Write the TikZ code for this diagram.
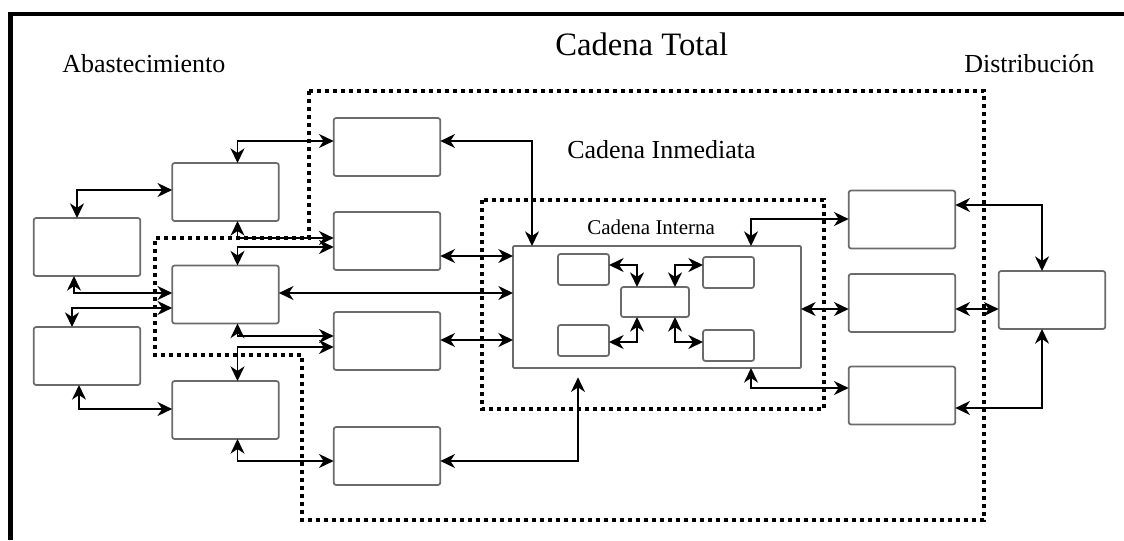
\documentclass[tikz,border=0pt]{standalone}
\usepackage{fontspec}
\setmainfont{Liberation Serif}
\usetikzlibrary{calc,arrows.meta}
\tikzset{
  box/.style={draw=black!58, line width=1.3pt, fill=white, rounded corners=1.8pt, inner sep=0pt, outer sep=0pt},
  stdbox/.style={box, minimum width=80pt, minimum height=43.5pt},
  smallbox/.style={box, minimum width=38.25pt, minimum height=23.25pt},
  tip/.style={Stealth[length=11pt,width=10.5pt,inset=3.5pt]},
  conn/.style={line width=1.45pt, {Stealth[length=11pt,width=10.5pt,inset=3.5pt]}-{Stealth[length=11pt,width=10.5pt,inset=3.5pt]}},
  dotframe/.style={line width=3.2pt, dash pattern=on 3.2pt off 2.8pt},
  frame/.style={line width=3.5pt},
  lbl/.style={anchor=base west, inner sep=0pt}
}
\begin{document}
\begin{tikzpicture}[x=0.75pt,y=-0.75pt]
\useasboundingbox (0,0) rectangle (1124,540);
% frame
\coordinate (fa) at (10.5,540);
\coordinate (fb) at (10.5,14);
\coordinate (fc) at (1124,14);
\draw[frame] (fa) -- (fb) -- (fc);
% labels
\node[lbl, font=\fontsize{19.5pt}{22pt}\selectfont] (tAb) at (62,72) {Abastecimiento};
\node[lbl, font=\fontsize{24.5pt}{28pt}\selectfont] (tCT) at (555,55) {Cadena Total};
\node[lbl, font=\fontsize{19.5pt}{22pt}\selectfont] (tDi) at (964,72) {Distribución};
\node[lbl, font=\fontsize{19.5pt}{22pt}\selectfont] (tCI) at (567,158) {Cadena Inmediata};
\node[lbl, font=\fontsize{15.75pt}{18pt}\selectfont] (tCN) at (587,234) {Cadena Interna};
% boxes
\node[stdbox] (L1) at (87,247) {};
\node[stdbox] (L2) at (87,356) {};
\node[stdbox] (M1) at (225.5,192) {};
\node[stdbox] (M2) at (225.5,294.5) {};
\node[stdbox] (M3) at (225.5,410) {};
\node[stdbox] (C1) at (387,147) {};
\node[stdbox] (C2) at (387,241) {};
\node[stdbox] (C3) at (387,341) {};
\node[stdbox] (C4) at (387,456) {};
\node[stdbox] (R1) at (902,219.5) {};
\node[stdbox] (R2) at (902,303) {};
\node[stdbox] (R3) at (902,395.5) {};
\node[stdbox] (D) at (1052,300) {};
\node[box, rounded corners=0.8pt, minimum width=216pt, minimum height=91.5pt] (IB) at (657,307) {};
\node[smallbox] (s1) at (583.5,269.5) {};
\node[box, minimum width=51pt, minimum height=22.5pt] (s2) at (655,302) {};
\node[smallbox] (s3) at (728.5,272.5) {};
\node[smallbox] (s4) at (583.5,340.5) {};
\node[smallbox] (s5) at (728.5,345.5) {};
% connectors
\draw[conn] ($(L1.north)+(-10,0)$) |- ($(M1.west)+(0,-2)$);
\draw[conn] ($(M1.north)+(12,0)$) |- ($(C1.west)+(0,-6)$);
\draw[conn] ($(C1.east)+(0,-6)$) -| ($(IB.north)+(-125,0)$);
\draw[conn] ($(M1.south)+(12,0)$) |- ($(C2.west)+(0,-3)$);
\draw[conn] ($(M2.north)+(12,0)$) |- ($(C2.west)+(0,6)$);
\draw[conn] ($(L1.south)+(-13,0)$) |- ($(M2.west)+(0,-1.5)$);
\draw[conn] ($(L2.north)+(-15,0)$) |- ($(M2.west)+(0,13.5)$);
\draw[conn] ($(M2.east)+(0,-1.5)$) -- ($(IB.west)+(0,-14)$);
\draw[conn] ($(C2.east)+(0,15)$) -- ($(IB.west)+(0,-51)$);
\draw[conn] ($(C3.east)+(0,-1)$) -- ($(IB.west)+(0,33)$);
\draw[conn] ($(M2.south)+(12,0)$) |- ($(C3.west)+(0,-5)$);
\draw[conn] ($(M3.north)+(12,0)$) |- ($(C3.west)+(0,6)$);
\draw[conn] ($(L2.south)+(-8,0)$) |- ($(M3.west)+(0,-1)$);
\draw[conn] ($(M3.south)+(12,0)$) |- ($(C4.west)+(0,5)$);
\draw[conn, shorten >=7pt] ($(C4.east)+(0,5)$) -| ($(IB.south)+(-79,0)$);
\draw[conn] ($(IB.north)+(94,0)$) |- ($(R1.west)+(0,-0.5)$);
\draw[conn] ($(IB.east)+(0,2)$) -- ($(R2.west)+(0,6)$);
\draw[conn] ($(IB.south)+(94,0)$) |- ($(R3.west)+(0,-7.5)$);
\draw[conn] ($(R1.east)+(0,-14.5)$) -| ($(D.north)+(-10,0)$);
\draw[conn] ($(R2.east)+(0,6)$) -- ($(D.west)+(0,9)$);
\draw[conn] ($(R3.east)+(0,12.5)$) -| ($(D.south)+(-10,0)$);
\draw[conn] ($(s1.east)+(0,-4.5)$) -| ($(s2.north)+(-18,0)$);
\draw[conn] ($(s3.west)+(0,-7.5)$) -| ($(s2.north)+(20,0)$);
\draw[conn] ($(s4.east)+(0,1.5)$) -| ($(s2.south)+(-18,0)$);
\draw[conn] ($(s5.west)+(0,-3.5)$) -| ($(s2.south)+(20,0)$);
% dotted frames
\draw[dotframe] (309,91) -- (984,91) -- (984,520) -- (302,520) -- (302,355) -- (155,355) -- (155,238) -- (309,238) -- cycle;
\draw[dotframe] (482,200) rectangle (824,409);
\end{tikzpicture}
\end{document}
